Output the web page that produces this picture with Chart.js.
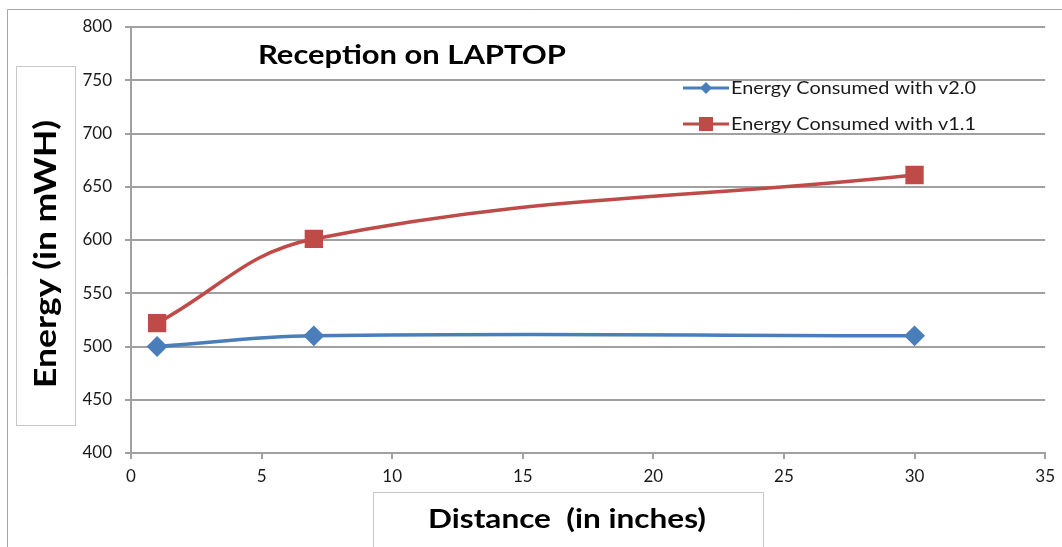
<!DOCTYPE html>
<html>
<head>
  <meta name='viewport' content='width=device-width, initial-scale=1'>
  <script src="https://cdn.jsdelivr.net/npm/chart.js@4.4.0/dist/chart.umd.min.js"></script>
  <style>
    html, body { margin: 0; padding: 0; background: #fff; }
    #wrap { width: 1062px; height: 547px; position: relative; }
  </style>
</head>
<body>
<div id="wrap"><canvas id="chart"></canvas></div>
<script>
  const distances = [1, 7, 30];
  const energyV20 = [500, 510, 510];
  const energyV11 = [522, 601, 661];
  const seriesNames = ['Energy Consumed with v2.0', 'Energy Consumed with v1.1'];
  const chartTitle = 'Reception on LAPTOP';
  const xTitle = 'Distance  (in inches)';
  const yTitle = 'Energy (in mWH)';

  const BLUE = '#4a7ebb';
  const RED = '#be4b48';
  const FONT = 'Lato, "Open Sans", sans-serif';

  function toPoints(xs, ys) {
    return xs.map((x, i) => ({x: x, y: ys[i]}));
  }

  // text is a bit wider in the original, so stretch it to the wanted width
  function wideText(ctx, text, x, y, font, width) {
    ctx.save();
    ctx.font = font;
    const w = ctx.measureText(text).width;
    ctx.translate(x, y);
    ctx.scale(width / w, 1);
    ctx.fillText(text, 0, 0);
    ctx.restore();
  }

  // draws frame, title, axis title boxes and the in-plot legend
  const decorations = {
    id: 'decorations',
    afterDraw(chart) {
      const ctx = chart.ctx;
      ctx.save();
      // outer frame
      ctx.strokeStyle = '#a6a6a6';
      ctx.lineWidth = 1;
      ctx.beginPath();
      ctx.moveTo(7.5, 547);
      ctx.lineTo(7.5, 9.5);
      ctx.lineTo(1062, 9.5);
      ctx.stroke();

      // axis title boxes
      ctx.strokeStyle = '#c8c8c8';
      ctx.strokeRect(16.5, 66.5, 59, 359);
      ctx.strokeRect(373.5, 492.5, 390, 60);

      ctx.fillStyle = '#000';
      ctx.textBaseline = 'alphabetic';
      ctx.textAlign = 'center';
      wideText(ctx, xTitle, 567, 528, 'bold 27px ' + FONT, 278);

      ctx.save();
      ctx.translate(56, 254);
      ctx.rotate(-Math.PI / 2);
      wideText(ctx, yTitle, 0, 0, 'bold 31px ' + FONT, 268);
      ctx.restore();

      // chart title
      ctx.textAlign = 'left';
      wideText(ctx, chartTitle, 258, 64, 'bold 26px ' + FONT, 308);

      // legend
      const items = [
        {name: seriesNames[0], color: BLUE, y: 88, style: 'diamond'},
        {name: seriesNames[1], color: RED, y: 124, style: 'square'}
      ];
      items.forEach(it => {
        ctx.strokeStyle = it.color;
        ctx.lineWidth = 3;
        ctx.beginPath();
        ctx.moveTo(683, it.y);
        ctx.lineTo(729, it.y);
        ctx.stroke();
        ctx.fillStyle = it.color;
        if (it.style === 'diamond') {
          ctx.beginPath();
          ctx.moveTo(706, it.y - 6);
          ctx.lineTo(712, it.y);
          ctx.lineTo(706, it.y + 6);
          ctx.lineTo(700, it.y);
          ctx.closePath();
          ctx.fill();
        } else {
          ctx.fillRect(699, it.y - 7, 14, 14);
        }
        ctx.fillStyle = '#1a1a1a';
        ctx.textAlign = 'left';
        wideText(ctx, it.name, 731, it.y + 6, '16.5px ' + FONT, 245);
      });
      ctx.restore();
    }
  };

  new Chart(document.getElementById('chart'), {
    type: 'line',
    data: {
      datasets: [{
        label: seriesNames[0],
        data: toPoints(distances, energyV20),
        borderColor: BLUE,
        backgroundColor: BLUE,
        borderWidth: 3.5,
        pointStyle: 'rectRot',
        pointRadius: 8,
        pointHoverRadius: 8,
        tension: 0.4
      }, {
        label: seriesNames[1],
        data: toPoints(distances, energyV11),
        borderColor: RED,
        backgroundColor: RED,
        borderWidth: 3.5,
        pointStyle: 'rect',
        pointRadius: 10.5,
        pointHoverRadius: 10.5,
        tension: 0.4
      }]
    },
    options: {
      responsive: true,
      maintainAspectRatio: false,
      animation: false,
      layout: { padding: { top: 27, right: 15, left: 0, bottom: 0 } },
      plugins: {
        legend: { display: false },
        tooltip: { enabled: false }
      },
      scales: {
        x: {
          type: 'linear',
          min: 0,
          max: 35,
          ticks: { stepSize: 5, color: '#1a1a1a', font: { family: FONT, size: 17 }, padding: 7 },
          grid: { drawOnChartArea: false, drawTicks: true, tickLength: 6, color: '#a0a0a0', lineWidth: 2 },
          border: { color: '#a0a0a0', width: 2 },
          afterFit(scale) { scale.height = 94; }
        },
        y: {
          min: 400,
          max: 800,
          ticks: { stepSize: 50, color: '#1a1a1a', font: { family: FONT, size: 17 }, padding: 13 },
          grid: { color: '#a0a0a0', lineWidth: 2, tickLength: 6 },
          border: { color: '#a0a0a0', width: 2 },
          afterFit(scale) { scale.width = 131; }
        }
      }
    },
    plugins: [decorations]
  });
</script>
</body>
</html>
